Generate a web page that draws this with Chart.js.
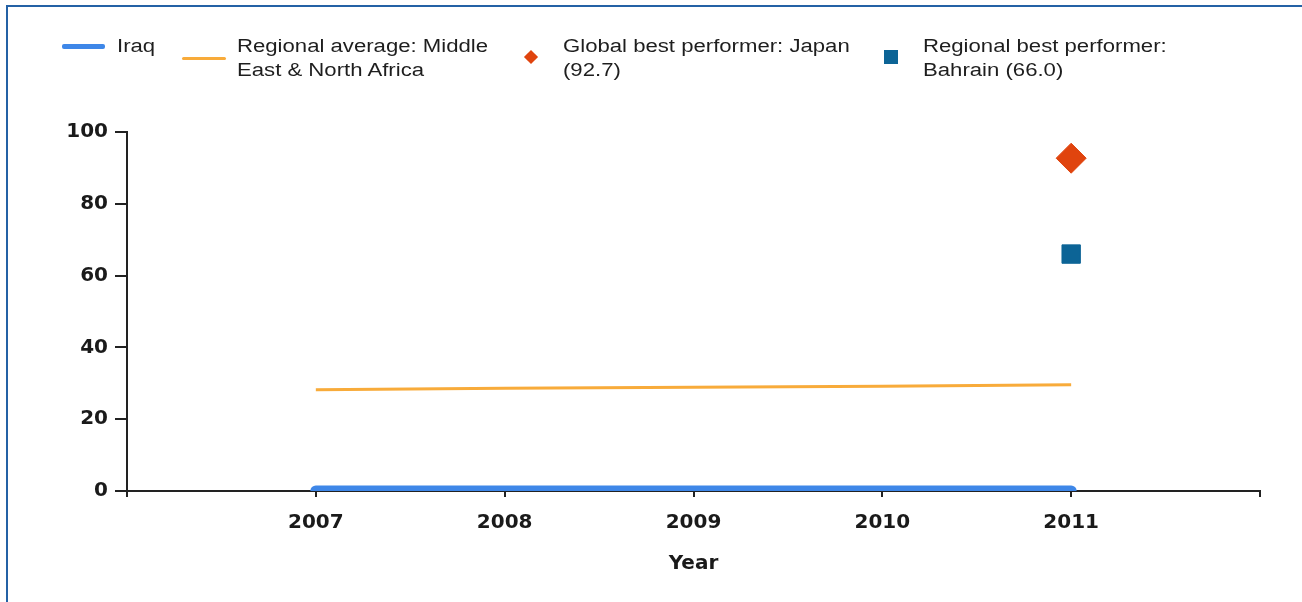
<!DOCTYPE html>
<html>
<head>
<meta charset="utf-8">
<script src="https://cdn.jsdelivr.net/npm/chart.js@4.4.1/dist/chart.umd.min.js"></script>
<style>
  body { margin: 0; background: #fff; width: 1302px; height: 602px; overflow: hidden; position: relative; font-family: "Liberation Sans", Arial, sans-serif; }
  .frame { position: absolute; left: 6px; top: 5px; width: 1320px; height: 620px; border-top: 2px solid #2461a5; border-left: 2px solid #2461a5; }
  #wrap { position: absolute; left: 0; top: 0; width: 1302px; height: 602px; }
  .legend-text { position: absolute; top: 34px; font-size: 18px; line-height: 24px; color: #1e1e1e; white-space: pre; transform: scaleX(1.23); transform-origin: 0 0; }
  .mark { position: absolute; }
</style>
</head>
<body>
<div class="frame"></div>
<div id="wrap"><canvas id="chart"></canvas></div>
<div id="legend"></div>
<script>
const years = [2007, 2008, 2009, 2010, 2011];
const iraq = [0, 0, 0, 0, 0];
const regionalAverage = [28.2, 28.6, 28.9, 29.2, 29.6];
const japan = [null, null, null, null, 92.7];
const bahrain = [null, null, null, null, 66.0];
const seriesLabels = [
  'Iraq',
  'Regional average: Middle\nEast & North Africa',
  'Global best performer: Japan\n(92.7)',
  'Regional best performer:\nBahrain (66.0)'
];
const seriesColors = ['#3e87e8', '#f8ab3a', '#e0440e', '#0c6496'];

const toPoints = values => years.map((yr, i) => ({ x: yr, y: values[i] })).filter(p => p.y !== null);

const tickFont = { family: '"DejaVu Sans", sans-serif', size: 20, weight: 'bold' };

// html legend, same order as the datasets
const legend = document.getElementById('legend');
const legendItems = [
  { mark: 'line', left: 62, top: 44, width: 43, height: 5, textLeft: 117 },
  { mark: 'line', left: 182, top: 57, width: 44, height: 3, textLeft: 237 },
  { mark: 'diamond', left: 526, top: 52, width: 10, height: 10, textLeft: 563 },
  { mark: 'square', left: 884, top: 50, width: 14, height: 14, textLeft: 923 }
];
legendItems.forEach((item, i) => {
  const m = document.createElement('div');
  m.className = 'mark';
  m.style.left = item.left + 'px';
  m.style.top = item.top + 'px';
  m.style.width = item.width + 'px';
  m.style.height = item.height + 'px';
  m.style.background = seriesColors[i];
  if (item.mark === 'line') m.style.borderRadius = '2px';
  if (item.mark === 'diamond') m.style.transform = 'rotate(45deg)';
  legend.appendChild(m);
  const t = document.createElement('div');
  t.className = 'legend-text';
  t.style.left = item.textLeft + 'px';
  t.textContent = seriesLabels[i];
  legend.appendChild(t);
});

const ctx = document.getElementById('chart').getContext('2d');
new Chart(ctx, {
  type: 'line',
  data: {
    datasets: [
      {
        label: seriesLabels[0],
        data: toPoints(iraq),
        borderColor: seriesColors[0],
        borderWidth: 11,
        borderCapStyle: 'round',
        pointRadius: 0,
        clip: { left: false, right: false, top: false, bottom: 0 }
      },
      {
        label: seriesLabels[1],
        data: toPoints(regionalAverage),
        borderColor: seriesColors[1],
        borderWidth: 3,
        pointRadius: 0
      },
      {
        label: seriesLabels[2],
        data: toPoints(japan),
        showLine: false,
        pointStyle: 'rectRot',
        pointRadius: 15,
        backgroundColor: seriesColors[2],
        borderColor: seriesColors[2],
        borderWidth: 1
      },
      {
        label: seriesLabels[3],
        data: toPoints(bahrain),
        showLine: false,
        pointStyle: 'rect',
        pointRadius: 13,
        backgroundColor: seriesColors[3],
        borderColor: seriesColors[3],
        borderWidth: 1
      }
    ]
  },
  options: {
    responsive: true,
    maintainAspectRatio: false,
    animation: false,
    layout: { padding: { left: 0, right: 42, top: 132, bottom: 0 } },
    plugins: { legend: { display: false }, tooltip: { enabled: false } },
    scales: {
      x: {
        type: 'linear',
        min: 2006,
        max: 2012,
        border: { display: true, color: '#222', width: 2 },
        grid: { drawOnChartArea: false, drawTicks: true, tickLength: 6, lineWidth: 2, color: '#222' },
        ticks: {
          stepSize: 1,
          autoSkip: false,
          maxRotation: 0,
          padding: 14,
          color: '#1a1a1a',
          font: tickFont,
          callback: v => years.includes(v) ? String(v) : ''
        },
        title: { display: true, text: 'Year', color: '#1a1a1a', font: tickFont, padding: { top: 14, bottom: 26 } },
        afterFit: s => { s.height = 111; }
      },
      y: {
        min: 0,
        max: 100,
        border: { display: true, color: '#222', width: 2 },
        grid: { drawOnChartArea: false, drawTicks: true, tickLength: 12, lineWidth: 2, color: '#222' },
        ticks: { stepSize: 20, padding: 7, color: '#1a1a1a', font: tickFont },
        afterFit: s => { s.width = 127; }
      }
    }
  }
});
</script>
</body>
</html>
